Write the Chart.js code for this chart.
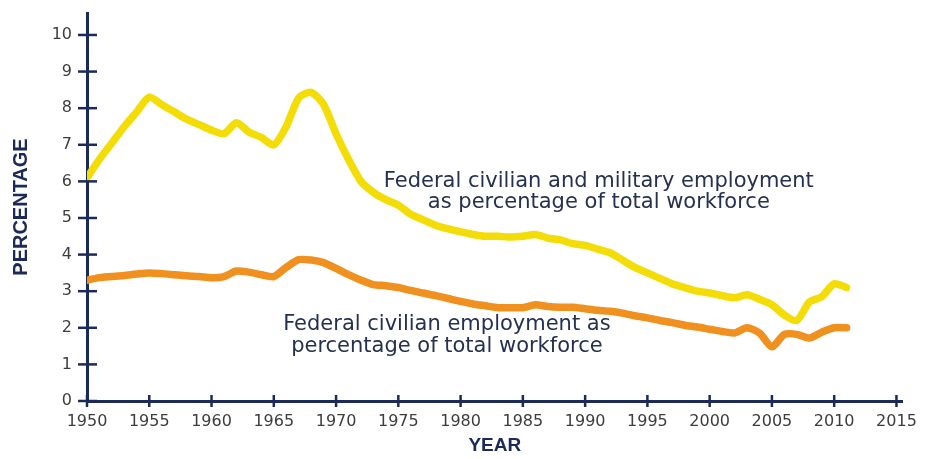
<!DOCTYPE html>
<html>
<head>
<meta charset="utf-8">
<script src="https://cdn.jsdelivr.net/npm/chart.js@4"></script>
<style>
  html, body { margin: 0; padding: 0; background: #ffffff; }
  #wrap { width: 928px; height: 459px; position: relative; }
</style>
</head>
<body>
<div id="wrap"><canvas id="c" width="928" height="459"></canvas></div>
<script>
const years = [1950,1951,1952,1953,1954,1955,1956,1957,1958,1959,1960,1961,1962,1963,1964,1965,1966,1967,1968,1969,1970,1971,1972,1973,1974,1975,1976,1977,1978,1979,1980,1981,1982,1983,1984,1985,1986,1987,1988,1989,1990,1991,1992,1993,1994,1995,1996,1997,1998,1999,2000,2001,2002,2003,2004,2005,2006,2007,2008,2009,2010,2011];
const civilianMilitary = [6.1,6.6,7.05,7.5,7.9,8.3,8.1,7.9,7.7,7.55,7.4,7.3,7.6,7.35,7.2,7.0,7.5,8.28,8.43,8.1,7.3,6.6,6.0,5.7,5.5,5.35,5.1,4.95,4.8,4.7,4.62,4.55,4.5,4.5,4.48,4.5,4.55,4.45,4.4,4.3,4.25,4.15,4.05,3.85,3.65,3.5,3.35,3.2,3.1,3.0,2.95,2.88,2.82,2.9,2.78,2.63,2.35,2.2,2.7,2.85,3.2,3.1];
const civilian = [3.3,3.37,3.4,3.43,3.47,3.5,3.48,3.45,3.42,3.4,3.37,3.4,3.55,3.52,3.45,3.4,3.65,3.86,3.85,3.78,3.62,3.45,3.3,3.18,3.15,3.1,3.02,2.95,2.88,2.8,2.72,2.65,2.6,2.55,2.55,2.55,2.63,2.58,2.56,2.56,2.52,2.48,2.45,2.4,2.33,2.27,2.2,2.14,2.07,2.02,1.96,1.9,1.86,2.0,1.86,1.48,1.82,1.82,1.72,1.88,2.0,2.0];
const xTicks = [1950,1955,1960,1965,1970,1975,1980,1985,1990,1995,2000,2005,2010,2015];
const yTicks = [0,1,2,3,4,5,6,7,8,9,10];
const seriesLabels = ["Federal civilian and military employment as percentage of total workforce", "Federal civilian employment as percentage of total workforce"];
const annotations = [
  { lines: ["Federal civilian and military employment", "as percentage of total workforce"], x: 1991.1, y: [6.0, 5.42] },
  { lines: ["Federal civilian employment as", "percentage of total workforce"], x: 1978.9, y: [2.08, 1.48] }
];
const xTitle = "YEAR";
const yTitle = "PERCENTAGE";

const NAVY = '#1b2a57';
const FONT = '"DejaVu Sans", "Liberation Sans", Arial, sans-serif';
const toPts = arr => years.map((y, i) => ({ x: y, y: arr[i] }));

const crossTicks = {
  id: 'crossTicks',
  afterDraw(chart) {
    const ctx = chart.ctx;
    const xs = chart.scales.x, ys = chart.scales.y;
    const x0 = xs.getPixelForValue(1950);
    const y0 = ys.getPixelForValue(0);
    ctx.save();
    ctx.strokeStyle = NAVY;
    ctx.lineWidth = 2.5;
    ctx.lineCap = 'butt';
    yTicks.forEach(v => {
      const p = ys.getPixelForValue(v);
      ctx.beginPath(); ctx.moveTo(x0 - 9, p); ctx.lineTo(x0 + 10, p); ctx.stroke();
    });
    xTicks.forEach(v => {
      const p = xs.getPixelForValue(v);
      ctx.beginPath(); ctx.moveTo(p, y0 - 6); ctx.lineTo(p, y0 + 6); ctx.stroke();
    });
    // annotations
    ctx.fillStyle = '#26314f';
    ctx.font = '21px ' + FONT;
    ctx.textAlign = 'center';
    ctx.textBaseline = 'middle';
    annotations.forEach(a => {
      a.lines.forEach((t, i) => {
        ctx.fillText(t, xs.getPixelForValue(a.x), ys.getPixelForValue(a.y[i]));
      });
    });
    ctx.restore();
  }
};

new Chart(document.getElementById('c'), {
  type: 'line',
  data: {
    datasets: [
      { label: seriesLabels[0], data: toPts(civilianMilitary), borderColor: '#f4dc06', borderWidth: 7.5, pointRadius: 0, tension: 0.25, borderCapStyle: 'round', borderJoinStyle: 'round', fill: false },
      { label: seriesLabels[1], data: toPts(civilian), borderColor: '#f0901e', borderWidth: 7.5, pointRadius: 0, tension: 0.25, borderCapStyle: 'round', borderJoinStyle: 'round', fill: false }
    ]
  },
  options: {
    responsive: false,
    animation: false,
    layout: { padding: { left: 0, right: 24, top: 13, bottom: 0 } },
    plugins: { legend: { display: false }, tooltip: { enabled: false } },
    scales: {
      x: {
        type: 'linear', min: 1950, max: 2015.5,
        afterBuildTicks: s => { s.ticks = xTicks.map(v => ({ value: v })); },
        afterFit: s => { s.height = 58; },
        grid: { display: false, drawTicks: false },
        border: { display: true, color: NAVY, width: 3 },
        ticks: { padding: 11, color: '#3d3d3d', font: { size: 16, family: FONT }, maxRotation: 0, callback: v => String(v) },
        title: { display: true, text: xTitle, color: NAVY, font: { size: 19, weight: 'bold', family: '"Liberation Sans", Arial, sans-serif' }, padding: { top: 4, bottom: 2 } }
      },
      y: {
        type: 'linear', min: 0, max: 10.6,
        afterBuildTicks: s => { s.ticks = yTicks.map(v => ({ value: v })); },
        afterFit: s => { s.width = 87; s.paddingTop = 0; s.paddingBottom = 0; },
        grid: { display: false, drawTicks: false },
        border: { display: true, color: NAVY, width: 3 },
        ticks: { padding: 15, color: '#3d3d3d', font: { size: 16, family: FONT } },
        title: { display: true, text: yTitle, color: NAVY, font: { size: 20, weight: 'bold', family: '"Liberation Sans", Arial, sans-serif' }, padding: { top: 9, bottom: 0 } }
      }
    }
  },
  plugins: [crossTicks]
});
</script>
</body>
</html>
